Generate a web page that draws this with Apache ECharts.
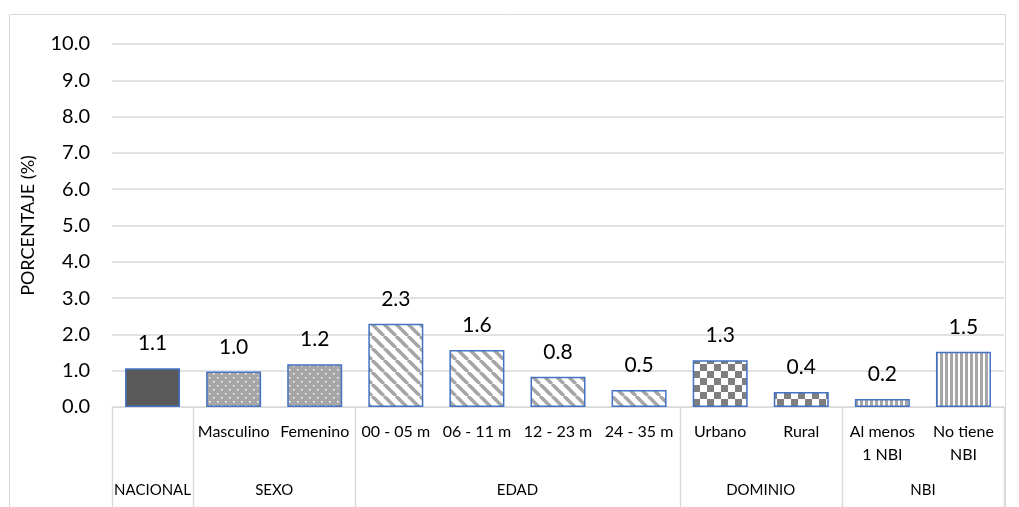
<!DOCTYPE html>
<html><head><meta charset="utf-8">
<script src="https://cdn.jsdelivr.net/npm/echarts@6/dist/echarts.min.js"></script>
<style>html,body{margin:0;padding:0;background:#fff}#c{width:1019px;height:507px}</style>
</head><body><div id="c"></div>
<script>
const categories = ['', 'Masculino', 'Femenino', '00 - 05 m', '06 - 11 m', '12 - 23 m', '24 - 35 m', 'Urbano', 'Rural', 'Al menos\n1 NBI', 'No tiene\nNBI'];
const values = [1.07, 0.98, 1.18, 2.29, 1.57, 0.83, 0.47, 1.29, 0.41, 0.22, 1.52];
const labels = ['1.1', '1.0', '1.2', '2.3', '1.6', '0.8', '0.5', '1.3', '0.4', '0.2', '1.5'];
const groups = ['NACIONAL', 'SEXO', 'EDAD', 'DOMINIO', 'NBI'];
const groupSizes = [1, 2, 4, 2, 2];
const yTicks = [0, 1, 2, 3, 4, 5, 6, 7, 8, 9, 10];

const FONT = 'Lato';
function pat(w, h, draw) { const c = document.createElement('canvas'); c.width = w; c.height = h; const g = c.getContext('2d'); draw(g); return { image: c, repeat: 'repeat' }; }
const solid = '#595959';
const dots = pat(8, 8, g => { g.fillStyle = '#a6a6a6'; g.fillRect(0, 0, 8, 8); g.fillStyle = '#fff'; g.fillRect(1, 1, 1.5, 1.5); g.fillRect(5, 5, 1.5, 1.5); });
const diag = pat(12, 12, g => { g.fillStyle = '#fff'; g.fillRect(0, 0, 12, 12); g.strokeStyle = '#a6a6a6'; g.lineWidth = 3.5; [-12, 0, 12].forEach(k => { g.beginPath(); g.moveTo(k, 0); g.lineTo(k + 12, 12); g.stroke(); }); });
const checker = pat(14, 14, g => { g.fillStyle = '#fff'; g.fillRect(0, 0, 14, 14); g.fillStyle = '#7f7f7f'; g.fillRect(0, 0, 7, 7); g.fillRect(7, 7, 7, 7); });
const vstripe = pat(5, 5, g => { g.fillStyle = '#fff'; g.fillRect(0, 0, 5, 5); g.fillStyle = '#a6a6a6'; g.fillRect(0, 0, 3, 5); });
const groupFills = [solid, dots, diag, checker, vstripe];

const fills = [];
groupSizes.forEach((n, gi) => { for (let k = 0; k < n; k++) fills.push(groupFills[gi]); });

const chart = echarts.init(document.getElementById('c'), null, { renderer: 'canvas' });
const option = {
  animation: false,
  grid: { left: 112, right: 15, top: 44, bottom: 100 },
  xAxis: {
    type: 'category', data: categories,
    axisLine: { lineStyle: { color: '#d9d9d9', width: 1 } },
    axisTick: { show: false },
    axisLabel: { fontFamily: FONT, fontSize: 16, color: '#000', margin: 13, verticalAlign: 'top', lineHeight: 23, interval: 0 }
  },
  yAxis: {
    type: 'value', min: 0, max: 10, interval: 1,
    name: 'PORCENTAJE (%)', nameLocation: 'middle', nameGap: 75, nameRotate: 90,
    nameTextStyle: { fontFamily: FONT, fontSize: 18, color: '#000' },
    axisLine: { show: false }, axisTick: { show: false },
    axisLabel: { fontFamily: FONT, fontSize: 20, color: '#000', margin: 22, formatter: v => yTicks.includes(v) ? v.toFixed(1) : '' },
    splitLine: { lineStyle: { color: '#d9d9d9', width: 1.5 } }
  },
  series: [{
    type: 'bar', barWidth: 55,
    data: values.map((v, i) => ({ value: v, itemStyle: { color: fills[i] }, label: { formatter: labels[i] } })),
    itemStyle: { borderColor: '#4472c4', borderWidth: 1.5 },
    label: { show: true, position: 'top', distance: 14, fontFamily: FONT, fontSize: 21, color: '#000' }
  }]
};
chart.setOption(option);

const x0 = chart.convertToPixel({ xAxisIndex: 0 }, 0);
const x1 = chart.convertToPixel({ xAxisIndex: 0 }, 1);
const band = x1 - x0;
const yAxis0 = chart.convertToPixel({ yAxisIndex: 0 }, 0);
const gr = [];
gr.push({ type: 'rect', shape: { x: 9.5, y: 14.5, width: 996, height: 520 }, style: { fill: null, stroke: '#d9d9d9', lineWidth: 1 }, silent: true });
let start = 0;
const bounds = [0];
groupSizes.forEach((n, gi) => {
  const left = x0 + (start - 0.5) * band;
  const right = x0 + (start + n - 0.5) * band;
  gr.push({ type: 'text', x: (left + right) / 2, y: yAxis0 + 83, style: { text: groups[gi], fontFamily: FONT, fontSize: 15, fill: '#000', align: 'center', verticalAlign: 'middle' } });
  start += n; bounds.push(start);
});
bounds.forEach(b => {
  const x = Math.round(x0 + (b - 0.5) * band) + 0.5;
  gr.push({ type: 'line', shape: { x1: x, y1: yAxis0, x2: x, y2: 507 }, style: { stroke: '#d9d9d9', lineWidth: 1.5 }, silent: true });
});
chart.setOption({ graphic: gr });
</script></body></html>
